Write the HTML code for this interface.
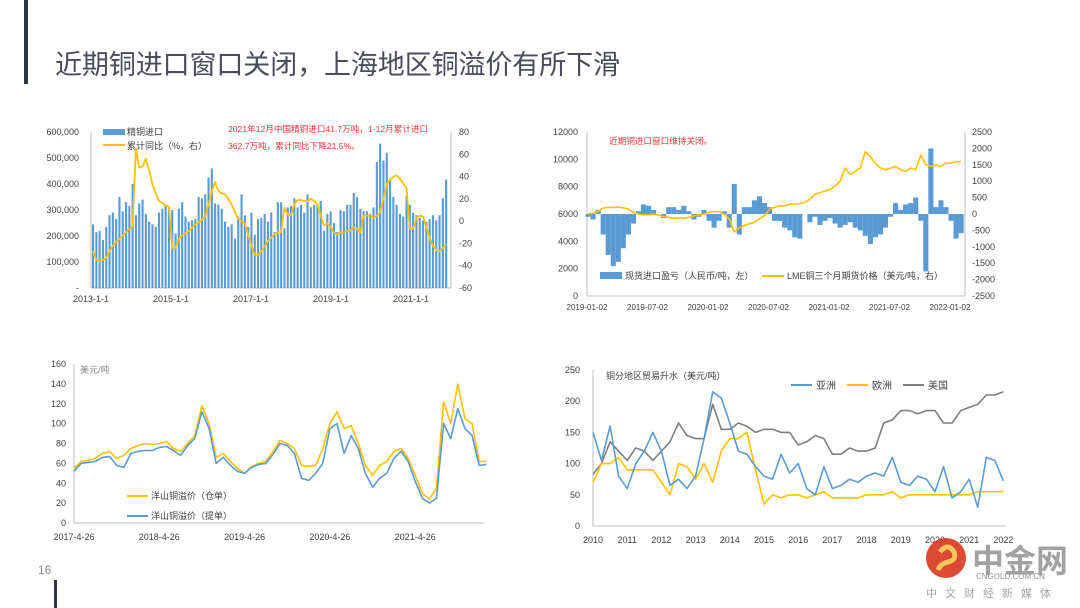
<!DOCTYPE html>
<html><head><meta charset="utf-8">
<style>
body{margin:0;background:#fff;}
#slide{position:relative;width:1080px;height:608px;overflow:hidden;background:#fff;font-family:"Liberation Sans","Noto Sans CJK SC",sans-serif;}
svg{position:absolute;left:0;top:0;}
</style></head>
<body>
<div id="slide">
<svg id="svg" width="1080" height="608" viewBox="0 0 1080 608">
  <rect x="24" y="0" width="4" height="84" fill="#2f3349"/>
  <text x="55" y="74" font-size="27" fill="#4a4c5c" font-family="Liberation Sans,Noto Sans CJK SC,sans-serif" textLength="565">近期铜进口窗口关闭，上海地区铜溢价有所下滑</text>
  <rect x="54" y="580" width="3" height="28" fill="#2f3349"/>
  <text x="38" y="574" font-size="12" fill="#888">16</text>
  <g id="c1"></g>
  <g id="c2"></g>
  <g id="c3"></g>
  <g id="c4"></g>
  <g opacity="0.9">
    <circle cx="946" cy="558" r="20" fill="#d9371f"/>
    <path d="M940 552 q8 -10 14 0 q3 8 -6 10 q-8 2 -10 8" stroke="#f7c04a" stroke-width="5" fill="none"/>
    <text x="972" y="572" font-size="32" fill="#999" font-weight="bold">中金网</text>
    <text x="976" y="579" font-size="8" fill="#888">CNGOLD.COM.CN</text>
    <text x="926" y="597" font-size="11" fill="#999" letter-spacing="8">中文财经新媒体</text>
  </g>
</svg>
</div>
<script>
// ===== Chart 1 data =====
const c1Years = ["2013-1-1","2015-1-1","2017-1-1","2019-1-1","2021-1-1"];
const c1LeftTicks = ["-","100,000","200,000","300,000","400,000","500,000","600,000"];
const c1RightTicks = [-60,-40,-20,0,20,40,60,80];
const c1Imports = [245,215,220,185,235,280,290,265,350,295,330,315,
 400,280,325,340,285,255,245,235,290,305,315,310,
 300,210,305,330,275,255,260,265,350,345,360,425,
 460,325,320,305,255,235,245,190,275,360,280,235,
 290,205,265,270,285,255,290,215,330,330,230,310,
 315,345,310,320,290,360,310,320,325,335,220,285,
 295,250,215,300,295,320,320,365,350,305,295,295,
 285,310,485,555,490,520,420,350,320,285,275,355,
 320,290,280,270,260,255,265,280,260,280,345,417];
const c1Yoy = [-27,-35,-36,-35,-33,-27,-22,-19,-16,-13,-10,-7,
 -5,65,48,49,56,46,33,25,18,16,14,13,
 -24,-24,-16,-13,-11,-9,-6,-3,-1,1,4,15,
 27,35,27,25,24,20,15,8,2,0,-2,-12,
 -22,-30,-30,-27,-23,-18,-15,-12,-10,-10,12,6,
 5,15,19,19,18,18,20,18,15,5,-4,-2,
 -5,-10,-12,-10,-10,-9,-8,-6,-7,-10,5,5,
 5,3,5,8,20,33,37,40,41,38,34,30,
 -7,-7,3,5,4,-5,-15,-22,-26,-27,-24,-21];
// ===== Chart 2 data =====
const c2Dates = ["2019-01-02","2019-07-02","2020-01-02","2020-07-02","2021-01-02","2021-07-02","2022-01-02"];
const c2LeftTicks = [0,2000,4000,6000,8000,10000,12000];
const c2RightTicks = [-2500,-2000,-1500,-1000,-500,0,500,1000,1500,2000,2500];
const c2Profit = [5800,5600,6300,4500,3000,2200,2500,3500,4500,5300,6200,6700,
 6600,6300,6000,5700,6500,6500,6300,6600,6200,5600,5800,6300,
 5500,5000,5500,6200,5000,8200,4500,6500,6500,7000,7300,6800,
 6500,5500,5500,5000,4800,4300,4200,6000,5400,5800,5200,5500,
 5700,5300,5000,5200,5400,5000,4800,4400,3800,4300,4500,5000,
 5800,6800,6300,6700,6800,7200,5500,1800,10800,6500,7000,6500,
 5500,4200,4600];
const c2Lme = [0,20,80,180,200,200,210,190,150,50,0,-20,
 -20,0,-30,-80,-100,-130,-120,-130,-100,-60,-20,0,
 50,80,70,0,-150,-550,-420,-350,-300,-250,-150,-50,
 150,200,250,250,300,300,320,350,450,600,650,700,
 750,850,1000,1400,1200,1300,1400,1900,1750,1550,1400,1350,
 1400,1450,1350,1300,1400,1350,1800,1500,1450,1500,1450,1550,
 1550,1600,1600];
// ===== Chart 3 data =====
const c3Dates = ["2017-4-26","2018-4-26","2019-4-26","2020-4-26","2021-4-26"];
const c3Ticks = [0,20,40,60,80,100,120,140,160];
const c3Warrant = [55,62,63,65,70,72,65,68,75,78,80,79,80,82,75,72,80,88,118,100,66,70,62,55,50,57,60,62,72,83,80,75,58,57,58,75,100,112,95,98,80,58,48,58,62,72,75,65,48,30,24,35,122,100,140,105,100,62,62];
const c3Bill = [52,60,61,62,66,67,58,56,70,72,73,73,76,77,73,68,78,85,112,95,60,66,58,52,50,56,59,60,69,80,78,70,45,43,50,60,95,100,70,88,75,50,36,45,50,65,72,62,42,25,20,25,100,85,115,95,88,58,59];
// ===== Chart 4 data =====
const c4Years = [2010,2011,2012,2013,2014,2015,2016,2017,2018,2019,2020,2021,2022];
const c4Ticks = [0,50,100,150,200,250];
const c4Asia = [150,105,160,80, 60,100,120,150, 120,65,75,60, 80,140,215,205, 165,120,115,95, 80,75,115,85, 100,60,50,95, 60,65,75,70, 80,85,80,110, 70,65,80,75, 55,95,45,55, 75,30,110,105, 72];
const c4Europe = [70,100,100,110, 90,90,90,90, 70,50,100,95, 75,100,70,120, 140,140,150,90, 35,50,45,50, 50,45,50,55, 45,45,45,45, 50,50,50,55, 45,50,50,50, 50,50,50,50, 50,55,55,55, 55];
const c4Usa = [83,100,135,120, 105,125,120,105, 120,135,165,145, 140,140,195,155, 155,165,160,150, 155,155,150,150, 130,135,145,140, 115,115,125,120, 120,125,165,170, 185,185,180,185, 185,165,165,185, 190,195,210,210, 215];

const NS="http://www.w3.org/2000/svg";
function mk(parent,tag,attrs,text){const e=document.createElementNS(NS,tag);for(const k in attrs)e.setAttribute(k,attrs[k]);if(text!==undefined)e.textContent=text;parent.appendChild(e);return e;}
const BLUE="#5b9bd5",YEL="#ffc000",GRAY="#7f7f7f",AX="#bfbfbf",TX="#404040";
function poly(g,xs,ys,color,w){let d="";for(let i=0;i<xs.length;i++)d+=(i?"L":"M")+xs[i].toFixed(1)+" "+ys[i].toFixed(1);return mk(g,"path",{d:d,fill:"none",stroke:color,"stroke-width":w,"stroke-linejoin":"round"});}

// ---------- Chart 1 ----------
(function(){
const g=document.getElementById('c1');
const x0=91,x1=451,yTop=132,yBot=288;
const yL=v=>yBot-(v/600)*(yBot-yTop);
const yR=v=>yBot-((v+60)/140)*(yBot-yTop);
const xM=i=>x0+2+i*3.3;
c1LeftTicks.forEach((t,i)=>{const e=mk(g,"text",{x:x0-12,y:yL(i*100)+3,"font-size":9,fill:TX,"text-anchor":"end"},t);});
c1RightTicks.forEach(t=>{const e=mk(g,"text",{x:x1+8,y:yR(t)+3,"font-size":9,fill:TX},t);});
c1Years.forEach((t,i)=>{const e=mk(g,"text",{x:x0+i*80,y:302,"font-size":9,fill:TX,"text-anchor":"middle"},t);});
mk(g,"line",{x1:x0,y1:yTop,x2:x0,y2:yBot,stroke:AX});
mk(g,"line",{x1:x1,y1:yTop,x2:x1,y2:yBot,stroke:AX});
mk(g,"line",{x1:x0,y1:yBot,x2:x1,y2:yBot,stroke:AX});
c1Imports.forEach((v,i)=>{const b=mk(g,"rect",{x:xM(i)-1,y:yL(v),width:2.1,height:yBot-yL(v),fill:BLUE});});
const ln=poly(g,c1Yoy.map((v,i)=>xM(i)),c1Yoy.map(yR),YEL,1.8);

const l1=mk(g,"rect",{x:103,y:129,width:22,height:6,fill:BLUE});
mk(g,"text",{x:127,y:135,"font-size":9,fill:TX},"精铜进口");
mk(g,"line",{x1:103,y1:145,x2:125,y2:145,stroke:YEL,"stroke-width":2});
mk(g,"text",{x:127,y:149,"font-size":9,fill:TX},"累计同比（%，右）");
const a1=mk(g,"text",{x:228,y:132,"font-size":8.6,fill:"#f0353a"},"2021年12月中国精铜进口41.7万吨，1-12月累计进口");
mk(g,"text",{x:228,y:149,"font-size":8.6,fill:"#f0353a"},"362.7万吨，累计同比下降21.5%。");
})();

// ---------- Chart 2 ----------
(function(){
const g=document.getElementById('c2');
const x0=587,yTop=132,yBot=296,pxYear=121;
const yL=v=>yBot-(v/12000)*(yBot-yTop);
const yR=v=>yBot-((v+2500)/5000)*(yBot-yTop);
const xI=i=>x0+1+i*pxYear/24;
c2LeftTicks.forEach(t=>{const e=mk(g,"text",{x:578,y:yL(t)+3,"font-size":9,fill:TX,"text-anchor":"end"},t);});
c2RightTicks.forEach(t=>{const e=mk(g,"text",{x:972,y:yR(t)+3,"font-size":9,fill:TX},t);});
c2Dates.forEach((t,i)=>{const e=mk(g,"text",{x:x0+i*pxYear/2,y:310,"font-size":8,fill:TX,"text-anchor":"middle"},t);});
mk(g,"line",{x1:x0,y1:yTop,x2:x0,y2:yBot,stroke:AX});
mk(g,"line",{x1:965,y1:yTop,x2:965,y2:yBot,stroke:AX});
mk(g,"line",{x1:x0,y1:yBot,x2:965,y2:yBot,stroke:AX});
const base=yL(6000);
c2Profit.forEach((v,i)=>{const y=yL(v);const b=mk(g,"rect",{x:xI(i)-2.5,y:Math.min(y,base),width:5.1,height:Math.abs(base-y),fill:BLUE});});
const ln=poly(g,c2Lme.map((v,i)=>xI(i)),c2Lme.map(yR),YEL,1.6);

mk(g,"text",{x:609,y:144,"font-size":8.6,fill:"#f0353a"},"近期铜进口窗口维持关闭。");
mk(g,"rect",{x:600,y:272,width:22,height:7,fill:BLUE});
mk(g,"text",{x:625,y:279,"font-size":9,fill:TX},"现货进口盈亏（人民币/吨，左）");
mk(g,"line",{x1:762,y1:276,x2:784,y2:276,stroke:YEL,"stroke-width":2});
mk(g,"text",{x:787,y:279,"font-size":9,fill:TX},"LME铜三个月期货价格（美元/吨，右）");
})();

// ---------- Chart 3 ----------
(function(){
const g=document.getElementById('c3');
const x0=74,yTop=364,yBot=523,pxYear=85.3;
const y=v=>yBot-(v/160)*(yBot-yTop);
const xI=i=>x0+i*pxYear/12;
c3Ticks.forEach(t=>{const e=mk(g,"text",{x:66,y:y(t)+3,"font-size":9,fill:TX,"text-anchor":"end"},t);});
c3Dates.forEach((t,i)=>{const e=mk(g,"text",{x:x0+i*pxYear,y:540,"font-size":9,fill:TX,"text-anchor":"middle"},t);});
mk(g,"line",{x1:x0,y1:yTop,x2:x0,y2:yBot,stroke:AX});
mk(g,"line",{x1:x0,y1:yBot,x2:484,y2:yBot,stroke:AX});
mk(g,"text",{x:80,y:373,"font-size":9,fill:"#888"},"美元/吨");
const a=poly(g,c3Warrant.map((v,i)=>xI(i)),c3Warrant.map(y),YEL,1.6);
const b=poly(g,c3Bill.map((v,i)=>xI(i)),c3Bill.map(y),BLUE,1.6);
mk(g,"line",{x1:127,y1:496,x2:148,y2:496,stroke:YEL,"stroke-width":2});
mk(g,"text",{x:151,y:499,"font-size":9,fill:TX},"洋山铜溢价（仓单）");
mk(g,"line",{x1:127,y1:516,x2:148,y2:516,stroke:BLUE,"stroke-width":2});
mk(g,"text",{x:151,y:519,"font-size":9,fill:TX},"洋山铜溢价（提单）");
})();

// ---------- Chart 4 ----------
(function(){
const g=document.getElementById('c4');
const x0=593,yTop=370,yBot=526,pxYear=34.2;
const y=v=>yBot-(v/250)*(yBot-yTop);
const xI=i=>x0+i*pxYear/4;
c4Ticks.forEach(t=>{const e=mk(g,"text",{x:580,y:y(t)+3,"font-size":9,fill:TX,"text-anchor":"end"},t);});
c4Years.forEach((t,i)=>{const e=mk(g,"text",{x:x0+i*pxYear,y:543,"font-size":9,fill:TX,"text-anchor":"middle"},t);});
mk(g,"line",{x1:x0,y1:yTop,x2:x0,y2:yBot,stroke:AX});
mk(g,"line",{x1:x0,y1:yBot,x2:1006,y2:yBot,stroke:AX});
mk(g,"text",{x:606,y:379,"font-size":9,fill:TX},"铜分地区贸易升水（美元/吨）");
const u=poly(g,c4Usa.map((v,i)=>xI(i)),c4Usa.map(y),GRAY,1.6);
const e=poly(g,c4Europe.map((v,i)=>xI(i)),c4Europe.map(y),YEL,1.6);
const a=poly(g,c4Asia.map((v,i)=>xI(i)),c4Asia.map(y),BLUE,1.6);
mk(g,"line",{x1:791,y1:385,x2:812,y2:385,stroke:BLUE,"stroke-width":2});
mk(g,"text",{x:816,y:389,"font-size":10,fill:TX},"亚洲");
mk(g,"line",{x1:847,y1:385,x2:868,y2:385,stroke:YEL,"stroke-width":2});
mk(g,"text",{x:872,y:389,"font-size":10,fill:TX},"欧洲");
mk(g,"line",{x1:903,y1:385,x2:924,y2:385,stroke:GRAY,"stroke-width":2});
mk(g,"text",{x:928,y:389,"font-size":10,fill:TX},"美国");
})();
</script>
</body></html>
